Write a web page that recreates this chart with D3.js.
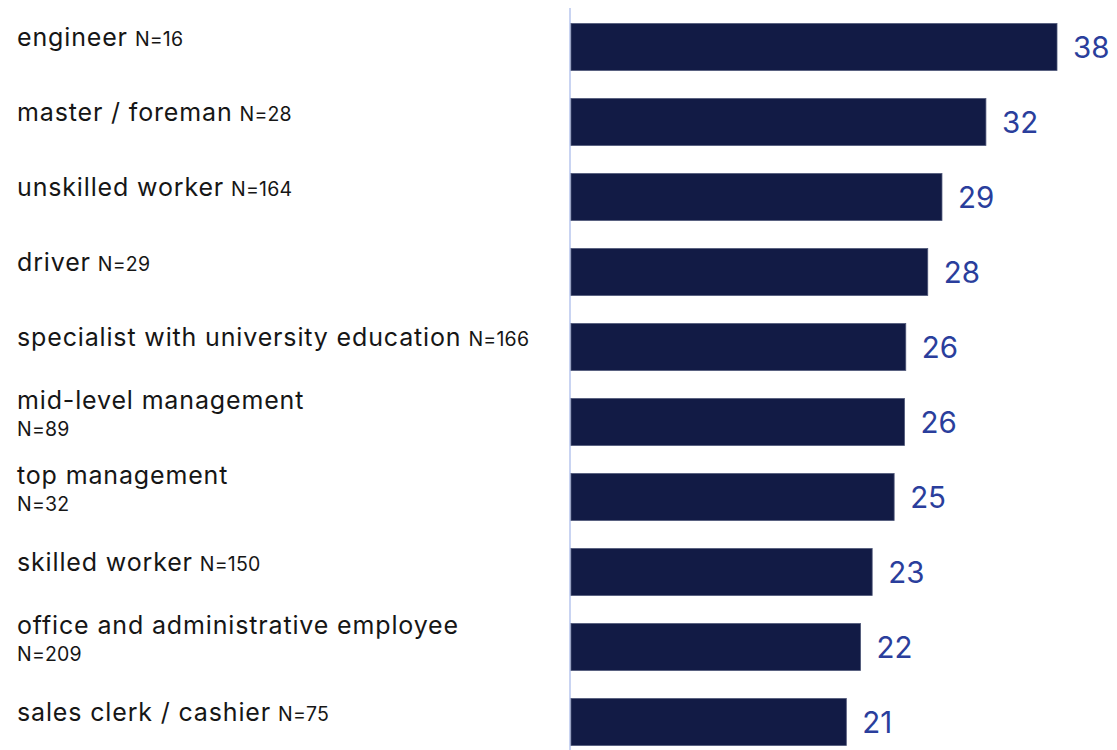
<!DOCTYPE html>
<html>
<head>
<meta charset="utf-8">
<script src="https://cdn.jsdelivr.net/npm/d3@7"></script>
<style>
  html, body { margin: 0; padding: 0; background: #fff; }
  svg { display: block; }
</style>
</head>
<body>
<svg id="chart" width="1117" height="750"></svg>
<script>
// Occupational groups, shares (%) and respondent counts
const categories = [
  "engineer",
  "master / foreman",
  "unskilled worker",
  "driver",
  "specialist with university education",
  "mid-level management",
  "top management",
  "skilled worker",
  "office and administrative employee",
  "sales clerk / cashier"
];
const values = [37.6, 32.1, 28.7, 27.6, 25.9, 25.8, 25.0, 23.3, 22.4, 21.3];
const sampleSizes = [16, 28, 164, 29, 166, 89, 32, 150, 209, 75];
// groups whose sample size is printed on its own line
const sampleOnNewLine = ["mid-level management", "top management", "office and administrative employee"];

const data = categories.map((c, i) => ({ category: c, value: values[i], n: sampleSizes[i] }));

const svg = d3.select("#chart");
const height = 750;
const barStart = 571, barEnd = 1057;

const x = d3.scaleLinear()
  .domain([0, d3.max(values)])
  .range([barStart, barEnd]);

const y = d3.scaleBand()
  .domain(categories)
  .range([9.5, 759.5])
  .paddingInner(0.375)
  .paddingOuter(0.1875);

const fmt = d3.format(".0f");
const font = "Inter, 'Open Sans', sans-serif";

// baseline axis
svg.append("line")
  .attr("x1", barStart - 1).attr("x2", barStart - 1)
  .attr("y1", 8).attr("y2", height)
  .attr("stroke", "#c9d4f2")
  .attr("stroke-width", 2);

// bars
svg.append("g")
  .selectAll("rect")
  .data(data)
  .join("rect")
  .attr("x", x(0))
  .attr("y", d => y(d.category))
  .attr("width", d => x(d.value) - x(0))
  .attr("height", y.bandwidth())
  .attr("fill", "#121b45")
  .attr("stroke", "#4d5577")
  .attr("stroke-width", 0.8);

// value labels
svg.append("g")
  .selectAll("text")
  .data(data)
  .join("text")
  .attr("x", d => x(d.value) + 16)
  .attr("y", d => y(d.category) + y.bandwidth() / 2 + 11)
  .attr("fill", "#2a3e9c")
  .attr("font-family", font)
  .attr("font-size", 29.5)
  .text(d => fmt(d.value));

// category labels with sample size
const labels = svg.append("g")
  .selectAll("text")
  .data(data)
  .join("text")
  .attr("font-family", font)
  .attr("fill", "#161616");

labels.each(function(d) {
  const t = d3.select(this);
  const cy = y(d.category) + y.bandwidth() / 2;
  const stacked = sampleOnNewLine.includes(d.category);
  t.append("tspan")
    .attr("x", 17)
    .attr("y", stacked ? cy - 13 : cy - 1)
    .attr("font-size", 25)
    .attr("letter-spacing", 0.85)
    .text(d.category);
  if (stacked) {
    t.append("tspan")
      .attr("x", 17)
      .attr("y", cy + 14)
      .attr("font-size", 19.5)
      .attr("letter-spacing", 0.2)
      .text("N=" + d.n);
  } else {
    t.append("tspan")
      .attr("dx", 7)
      .attr("font-size", 19.5)
      .attr("letter-spacing", 0.2)
      .text("N=" + d.n);
  }
});
</script>
</body>
</html>
